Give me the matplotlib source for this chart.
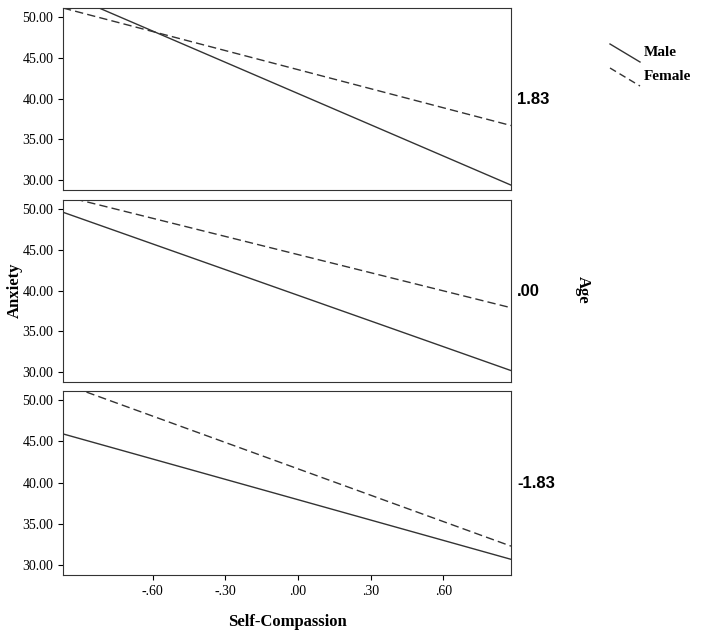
import matplotlib.pyplot as plt
from matplotlib.lines import Line2D

x_ends = [-0.97, 0.88]
age_labels = ['1.83', '.00', '-1.83']
male = [[53.0, 29.4], [49.6, 30.2], [45.9, 30.7]]
female = [[51.1, 36.7], [51.6, 37.9], [52.0, 32.3]]
xticks = [-0.6, -0.3, 0.0, 0.3, 0.6]
xticklabels = ['-.60', '-.30', '.00', '.30', '.60']
yticks = [30, 35, 40, 45, 50]

W, H = 714, 641
fig = plt.figure(figsize=(W / 100, H / 100), dpi=100)
serif = 'Liberation Serif'
sans = 'Liberation Sans'

panels = [(8, 190), (200, 382), (391, 575)]
for i, (top, bot) in enumerate(panels):
    ax = fig.add_axes([63 / W, 1 - bot / H, 448 / W, (bot - top) / H])
    ax.plot(x_ends, male[i], color='#333333', lw=1)
    ax.plot(x_ends, female[i], color='#333333', lw=1, ls=(0, (6, 3)))
    ax.set_xlim(-0.97, 0.88)
    ax.set_ylim(28.8, 51.1)
    ax.set_yticks(yticks)
    ax.set_yticklabels(['%.2f' % v for v in yticks], fontfamily=serif, fontsize=10)
    ax.set_xticks(xticks)
    if i == 2:
        ax.set_xticklabels(xticklabels, fontfamily=serif, fontsize=10)
    else:
        ax.set_xticklabels([])
        ax.tick_params(axis='x', length=0)
    for s in ax.spines.values():
        s.set_color('#333333')
    fig.text(517 / W, 1 - (top + bot) / 2 / H, age_labels[i], fontfamily=sans,
             fontweight='bold', fontsize=12, va='center')

fig.text(15 / W, 1 - 290 / H, 'Anxiety', rotation=90, fontfamily=serif,
         fontweight='bold', fontsize=12, va='center', ha='center')
fig.text(287 / W, 1 - 622 / H, 'Self-Compassion', fontfamily=serif,
         fontweight='bold', fontsize=12, ha='center', va='center')
fig.text(583 / W, 1 - 290 / H, 'Age', rotation=-90, fontfamily=serif,
         fontweight='bold', fontsize=12, va='center', ha='center')

# legend
fig.add_artist(Line2D([610 / W, 640 / W], [1 - 44 / H, 1 - 62 / H], color='#333333', lw=1))
fig.add_artist(Line2D([610 / W, 640 / W], [1 - 68 / H, 1 - 86 / H], color='#333333', lw=1,
                      ls=(0, (5, 3))))
fig.text(644 / W, 1 - 53 / H, 'Male', fontfamily=serif, fontweight='bold', fontsize=11, va='center')
fig.text(644 / W, 1 - 77 / H, 'Female', fontfamily=serif, fontweight='bold', fontsize=11, va='center')

fig.savefig('out.png', dpi=100)
